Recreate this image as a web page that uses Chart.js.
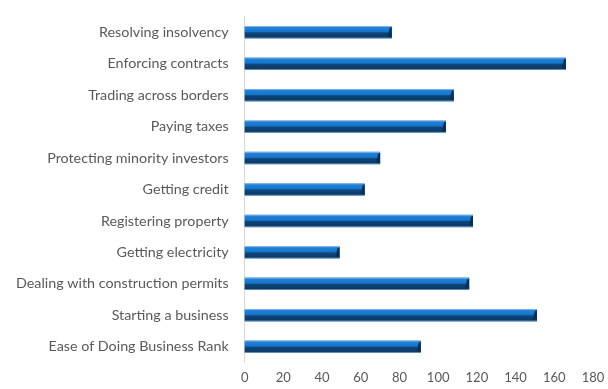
<!DOCTYPE html>
<html>
<head>
<meta charset="utf-8">
<script src="https://cdn.jsdelivr.net/npm/chart.js@4/dist/chart.umd.min.js"></script>
<style>
  html, body { margin: 0; padding: 0; background: #fff; }
  #wrap { width: 608px; height: 389px; }
</style>
</head>
<body>
<div id="wrap"><canvas id="rankChart"></canvas></div>
<script>
// Indicators, top to bottom as shown
const categories = [
  "Resolving insolvency",
  "Enforcing contracts",
  "Trading across borders",
  "Paying taxes",
  "Protecting minority investors",
  "Getting credit",
  "Registering property",
  "Getting electricity",
  "Dealing with construction permits",
  "Starting a business",
  "Ease of Doing Business Rank",
];

// Rank for each indicator
const ranks = [76, 166, 108, 104, 70, 62, 118, 49, 116, 151, 91];

// X axis ticks
const xMin = 0;
const xMax = 180;
const xStep = 20;

// Paints the bevelled 3D look over each bar
const bevelBars = {
  id: "bevelBars",
  afterDatasetsDraw(chart) {
    const c = chart.ctx;
    chart.getDatasetMeta(0).data.forEach(bar => {
      const left = Math.min(bar.base, bar.x);
      const w = Math.abs(bar.x - bar.base);
      const top = bar.y - bar.height / 2;
      const h = bar.height;
      const g = c.createLinearGradient(0, top, 0, top + h);
      g.addColorStop(0, "#a9c9ea");
      g.addColorStop(0.12, "#1f82da");
      g.addColorStop(0.45, "#1674c9");
      g.addColorStop(0.55, "#0e4678");
      g.addColorStop(0.88, "#0b3a66");
      g.addColorStop(1, "#8fb0d0");
      c.save();
      c.fillStyle = g;
      c.fillRect(left, top, w, h);
      // dark end cap
      c.fillStyle = "#0a2f55";
      c.beginPath();
      c.moveTo(left + w, top + 1);
      c.lineTo(left + w, top + h - 1);
      c.lineTo(left + w - 4, top + h - 2);
      c.lineTo(left + w - 2, top + 2);
      c.closePath();
      c.fill();
      c.restore();
    });
  }
};

new Chart(document.getElementById("rankChart"), {
  type: "bar",
  data: {
    labels: categories,
    datasets: [{
      data: ranks,
      backgroundColor: "#1572c6",
      borderWidth: 0,
      barPercentage: 0.9,
      categoryPercentage: 0.44,
    }]
  },
  options: {
    indexAxis: "y",
    responsive: true,
    maintainAspectRatio: false,
    animation: false,
    layout: { padding: { left: 8, right: 15, top: 2, bottom: 3 } },
    plugins: {
      legend: { display: false },
      tooltip: { enabled: false },
    },
    scales: {
      x: {
        min: xMin,
        max: xMax,
        ticks: {
          stepSize: xStep,
          color: "#595959",
          padding: 0,
          font: { family: "Lato", size: 13 },
        },
        grid: { display: false },
        border: { display: false },
      },
      y: {
        ticks: {
          color: "#595959",
          padding: 8,
          font: { family: "Lato", size: 14.3 },
        },
        grid: { display: false },
        border: { display: true, color: "#d9d9d9", width: 1 },
      }
    }
  },
  plugins: [bevelBars]
});
</script>
</body>
</html>
